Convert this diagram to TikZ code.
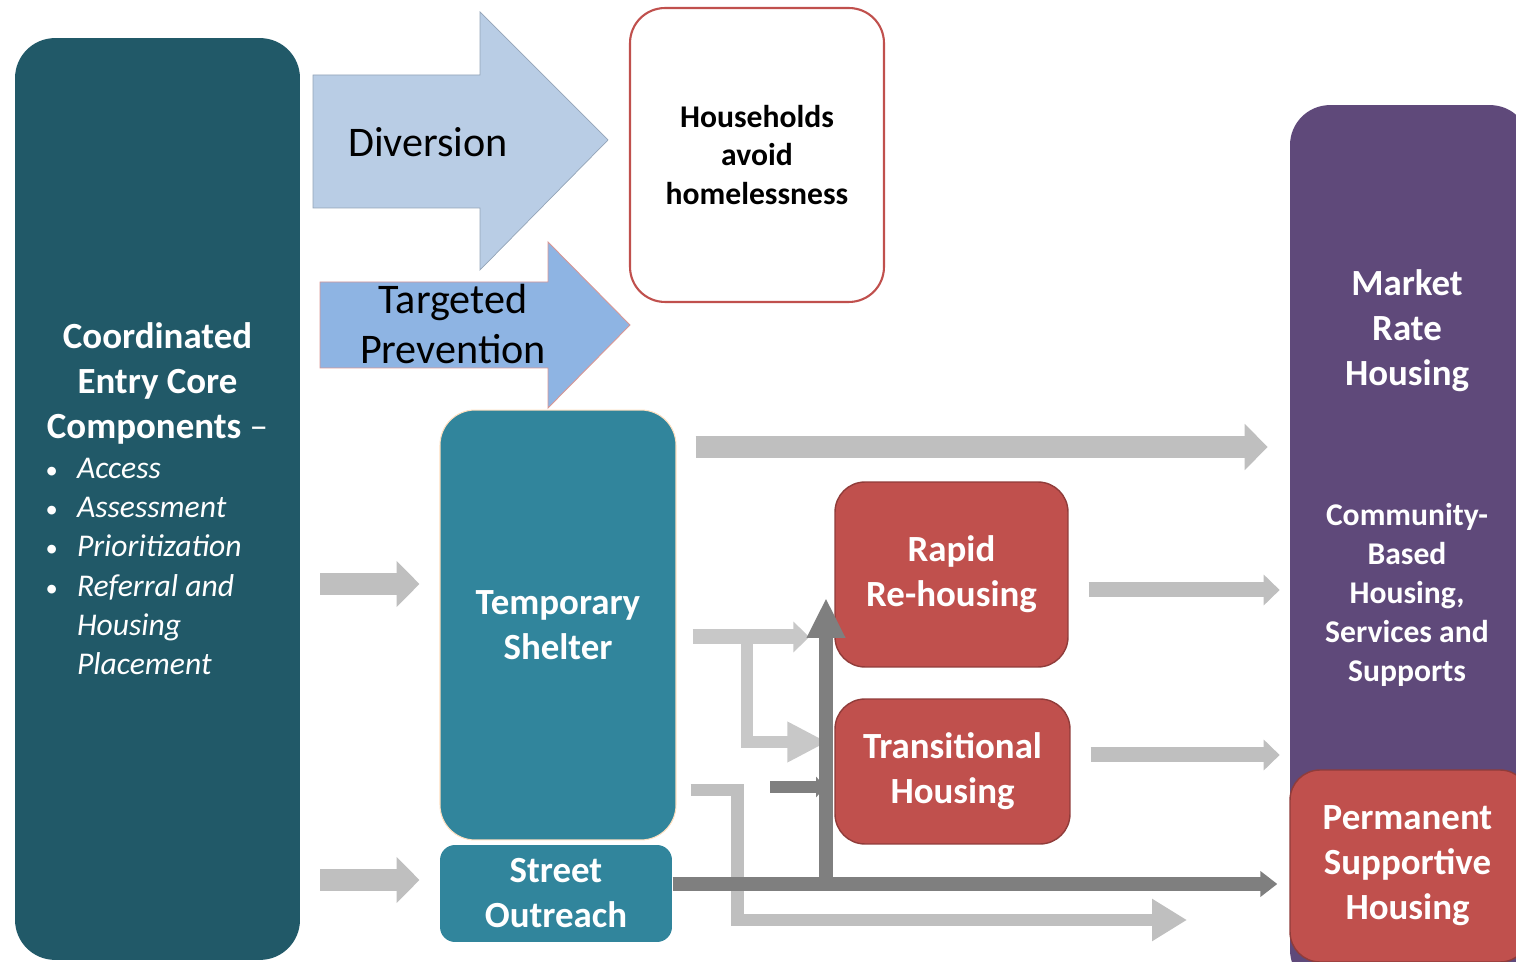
\documentclass[tikz,border=0pt]{standalone}
\usepackage{fontspec}
\setmainfont{Carlito}
\usepackage{xcolor}
\usepackage{tikz}
\usetikzlibrary{arrows.meta}

\definecolor{cedark}{HTML}{215968}
\definecolor{shelter}{HTML}{31859C}
\definecolor{rrred}{HTML}{C0504D}
\definecolor{mktpurple}{HTML}{5F497A}
\definecolor{divblue}{HTML}{B9CDE5}
\definecolor{prevblue}{HTML}{8EB4E3}
\definecolor{lgray}{HTML}{BFBFBF}
\definecolor{lgraytwo}{HTML}{C8C8C8}
\definecolor{dgray}{HTML}{7F7F7F}

\newcommand{\cebullet}{\hspace*{0.06cm}\makebox[0.63cm][l]{\upshape\fontsize{14}{14}\selectfont\textbullet}}

\begin{document}
\begin{tikzpicture}[x=0.02cm, y=-0.02cm,
    basebox/.style = {rectangle, rounded corners=0.7cm, text=white, align=center,
                      font=\bfseries\fontsize{21}{25.6}\selectfont},
    tealbox/.style = {basebox, fill=shelter, draw=orange!25, line width=0.6pt},
    redbox/.style = {basebox, fill=rrred, draw=rrred!75!black, line width=0.8pt},
    bigarrow/.style = {lgray, line width=0.44cm, -{Triangle[width=0.9cm,length=0.46cm]}},
    lgarrow/.style = {lgray, line width=0.3cm, -{Triangle[width=0.6cm,length=0.32cm]}},
    dkarrow/.style = {dgray, line width=0.28cm, -{Triangle[width=0.5cm,length=0.34cm]}}]
  \useasboundingbox (0,0) rectangle (1516,962);
  \clip (0,0) rectangle (1516,962);

  % left column
  \node (ce) [basebox, fill=cedark, rounded corners=0.8cm,
              minimum width=5.7cm, minimum height=18.44cm] at (157.5,499)
    {\parbox{4.6cm}{\centering Coordinated\\ Entry Core\\ Components \textmd{--}\par
     \raggedright\mdseries\itshape\fontsize{18}{22.4}\selectfont
     \cebullet Access\\
     \cebullet Assessment\\
     \cebullet Prioritization\\
     \cebullet Referral and\\
     \hspace*{0.69cm}Housing\\
     \hspace*{0.69cm}Placement}};

  % prevention arrows
  \filldraw[fill=divblue, draw=divblue!80!black, line width=0.4pt]
    (313,75) -- (480,75) -- (480,12) -- (608,140) -- (480,270) -- (480,208) -- (313,208) -- cycle;
  \node (dv) at (428,142) {\fontsize{24}{28.5}\selectfont Diversion};
  \filldraw[fill=prevblue, draw=rrred!60, line width=0.5pt]
    (320,282) -- (548,282) -- (548,242) -- (630,325) -- (548,408) -- (548,368) -- (320,368) -- cycle;
  \node (tp) [align=center, font=\fontsize{24}{28.5}\selectfont] at (453,324) {Targeted\\ Prevention};

  \node (hh) [basebox, fill=white, draw=rrred, line width=1.2pt, text=black,
              font=\bfseries\fontsize{18}{22.1}\selectfont,
              minimum width=5.08cm, minimum height=5.88cm] at (757,155)
    {Households\\ avoid\\ homelessness};

  % crisis response
  \node (ts) [tealbox, minimum width=4.72cm, minimum height=8.6cm] at (558,625) {Temporary\\ Shelter};
  \node (so) [tealbox, rounded corners=0.3cm, draw=none,
              minimum width=4.64cm, minimum height=1.94cm] at (556,893.5) {Street\\ Outreach};

  \node (rr) [redbox, rounded corners=0.6cm, minimum width=4.66cm, minimum height=3.7cm]
    at (951.5,574.5) {Rapid\\ Re-housing};
  \node (th) [redbox, rounded corners=0.6cm, minimum width=4.7cm, minimum height=2.9cm]
    at (952.5,771.5) {Transitional\\ Housing};

  % housing
  \node (mkt) [basebox, fill=mktpurple, rounded corners=0.8cm,
               minimum width=4.8cm, minimum height=17.7cm] at (1410,547.5) {};
  \node (mrh) [text=white, align=center, font=\bfseries\fontsize{21}{25.6}\selectfont]
    at (1407,331) {Market\\ Rate\\ Housing};
  \node (cbh) [text=white, align=center, font=\bfseries\fontsize{18}{22.1}\selectfont]
    at (1407,595) {Community-\\ Based\\ Housing,\\ Services and\\ Supports};
  \node (psh) [redbox, rounded corners=0.6cm, minimum width=4.8cm, minimum height=3.84cm]
    at (1410,866) {\hspace*{-0.1cm}Permanent\\ \hspace*{-0.1cm}Supportive\\ \hspace*{-0.1cm}Housing};

  \coordinate (jn) at (826,884);
  \coordinate (up) at (826,598);
  \coordinate (br) at (747,637);
  \coordinate (dk) at (770,787);
  \coordinate (bend) at (737,920);
  \coordinate (ex) at (1187,920);

  % flows
  \draw[bigarrow, shorten <=0.4cm, shorten >=0.4cm] (ce.east |- 0,584) -- (ts.west |- 0,584);
  \draw[bigarrow, shorten <=0.4cm, shorten >=0.4cm] (ce.east |- 0,880) -- (so.west |- 0,880);
  \draw[bigarrow, shorten <=0.38cm, shorten >=0.44cm] (ts.east |- 0,447) -- (mkt.west |- 0,447);
  \draw[lgarrow, shorten <=0.4cm, shorten >=0.2cm] (rr.east |- 0,590) -- (mkt.west |- 0,590);
  \draw[lgarrow, shorten <=0.4cm, shorten >=0.2cm] (th.east |- 0,755) -- (mkt.west |- 0,755);

  \draw[lgarrow, lgraytwo, shorten <=0.32cm, shorten >=0.5cm] (ts.east |- 0,637) -- (rr.west |- 0,637);
  \draw[lgraytwo, line width=0.24cm, -{Triangle[width=0.76cm,length=0.8cm]}, shorten >=0.14cm]
    (br) |- (th.west |- 0,742);
  \draw[lgray, line width=0.26cm, -{Triangle[width=0.8cm,length=0.7cm]}, shorten <=0.28cm]
    (ts.east |- 0,790) -| (bend) -- (ex);

  \draw[dkarrow, shorten >=0.24cm] (so.east |- 0,884) -- (psh.west |- 0,884);
  \draw[dgray, line width=0.28cm, -{Triangle[width=0.72cm,length=0.8cm]}] (jn) -- (up);
  \draw[dgray, line width=0.26cm, -{Triangle[width=0.4cm,length=0.2cm]}] (dk) -- (up |- dk);
\end{tikzpicture}
\end{document}
